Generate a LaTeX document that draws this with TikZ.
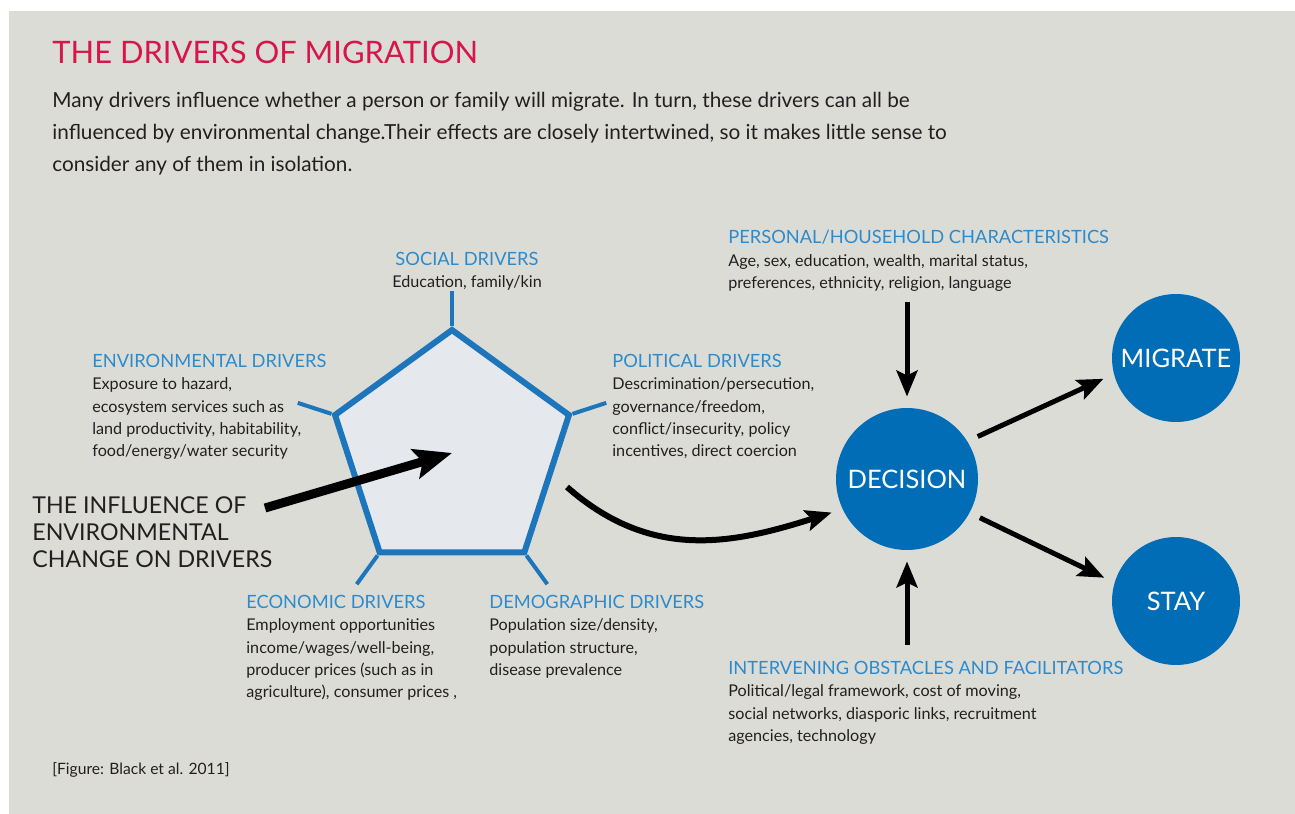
\documentclass[tikz,border=0pt]{standalone}
\usepackage{fontspec}
\setmainfont{Lato}
\usetikzlibrary{positioning,calc,shapes.geometric,arrows.meta}
\definecolor{panelgray}{HTML}{DCDCD7}
\definecolor{titlered}{HTML}{D61648}
\definecolor{headblue}{HTML}{2D8BCB}
\definecolor{lineblue}{HTML}{1D75BC}
\definecolor{circleblue}{HTML}{006DB6}
\definecolor{pentafill}{HTML}{E5E9ED}
\definecolor{bodytext}{HTML}{231F20}
\newcommand{\drivertitle}[1]{\textcolor{headblue}{\fontsize{10.4}{12.7}\selectfont #1}}
\tikzstyle{driver_text}=[anchor=north west,inner sep=0pt,align=left,text=bodytext,font=\fontsize{9.2}{12.7}\selectfont]
\tikzstyle{outcome_circle}=[circle,fill=circleblue,text=white,inner sep=0pt,outer sep=0.23cm,font=\fontsize{14.5}{16}\selectfont]
\tikzstyle{flow_arrow}=[line width=0.1cm,-{Stealth[length=0.52cm,width=0.42cm,inset=0.1cm]}]
\tikzstyle{driver_stub}=[lineblue,line width=0.08cm]

\begin{document}
\begin{tikzpicture}[x=0.02cm,y=-0.02cm]

            \useasboundingbox (0,0) rectangle (1295,814);
            \fill[white] (0,0) rectangle (1295,814);
            \fill[panelgray] (9,11) rectangle (1295,814);

            % Title and intro
            \node[anchor=north west,inner sep=0pt,text=titlered,font=\fontsize{17.6}{19}\selectfont] (title) at (52,41) {THE DRIVERS OF MIGRATION};
            \node[driver_text,font=\fontsize{11.8}{18.2}\selectfont] (intro) at (52,92) {Many drivers influence whether a person or family will migrate. In turn, these drivers can all be\\
                influenced by environmental change.Their effects are closely intertwined, so it makes little sense to\\
                consider any of them in isolation.};

            % Drivers
            \node[regular polygon,regular polygon sides=5,minimum size=4.92cm,inner sep=0pt,draw=lineblue,fill=pentafill,line width=0.12cm] (pentagon) at (452,453) {};
            \foreach \corner in {1,...,5}
                \draw[driver_stub] (pentagon.corner \corner) -- ($(pentagon.center)!1.28!(pentagon.corner \corner)$);

            \node[driver_text,anchor=north,align=center] (social) at (467,252) {\drivertitle{SOCIAL DRIVERS}\\Education, family/kin};
            \node[driver_text] (environmental) at (92,354) {\drivertitle{ENVIRONMENTAL DRIVERS}\\Exposure to hazard,\\ecosystem services such as\\land productivity, habitability,\\food/energy/water security};
            \node[driver_text] (political) at (612,354) {\drivertitle{POLITICAL DRIVERS}\\Descrimination/persecution,\\governance/freedom,\\conflict/insecurity, policy\\incentives, direct coercion};
            \node[driver_text] (economic) at (246,595) {\drivertitle{ECONOMIC DRIVERS}\\Employment opportunities\\income/wages/well-being,\\producer prices (such as in\\agriculture), consumer prices ,};
            \node[driver_text] (demographic) at (489,595) {\drivertitle{DEMOGRAPHIC DRIVERS}\\Population size/density,\\population structure,\\disease prevalence};

            % Environmental change
            \node[driver_text,font=\fontsize{13.2}{15.4}\selectfont] (influence) at (32,496) {THE INFLUENCE OF\\ENVIRONMENTAL\\CHANGE ON DRIVERS};
            \coordinate (influence_out) at (265,508);
            \draw[line width=0.18cm,-{Stealth[length=0.76cm,width=0.6cm,inset=0.15cm]}] (influence_out) -- (pentagon.center);

            % Decision
            \node[outcome_circle,minimum size=2.84cm] (decision) at (907,479) {DECISION};
            \node[outcome_circle,minimum size=2.56cm] (migrate) at (1176,358) {MIGRATE};
            \node[outcome_circle,minimum size=2.56cm] (stay) at (1176,601) {STAY};

            \node[driver_text] (personal) at (728,230) {\drivertitle{PERSONAL/HOUSEHOLD CHARACTERISTICS}\\Age, sex, education, wealth, marital status,\\preferences, ethnicity, religion, language};
            \node[driver_text] (obstacles) at (728,661) {\drivertitle{INTERVENING OBSTACLES AND FACILITATORS}\\Political/legal framework, cost of moving,\\social networks, diasporic links, recruitment\\agencies, technology};

            \coordinate (drivers_out) at (567,487);
            \draw[flow_arrow,line width=0.12cm] (drivers_out) .. controls (650,560) and (730,545) .. (decision.204);
            \draw[flow_arrow,shorten <=0.2cm] (personal.south -| decision.north) -- (decision.north);
            \draw[flow_arrow,shorten <=0.32cm] (obstacles.north -| decision.south) -- (decision.south);
            \draw[flow_arrow] (decision.31) -- (migrate.196);
            \draw[flow_arrow] (decision.332) -- (stay.162);

            % Source
            \node[driver_text,font=\fontsize{8.9}{12}\selectfont] (source) at (52,762) {[Figure: Black et al. 2011]};

\end{tikzpicture}
\end{document}
